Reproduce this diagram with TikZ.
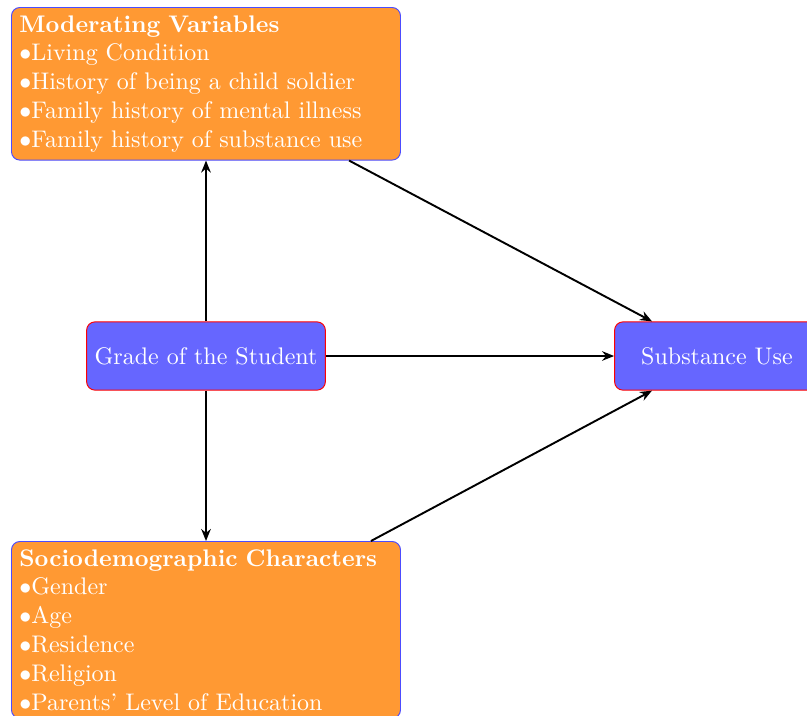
\documentclass[tikz,border=0pt]{standalone}
\usetikzlibrary{arrows.meta,calc}
\begin{document}
\begin{tikzpicture}[x=0.4167pt,y=-0.4167pt,
  infobox/.style={draw=blue!70, fill=orange!80, rounded corners=3.5pt, text=white,
    align=left, text width=155.5pt, inner sep=3.3pt, anchor=north west},
  keybox/.style={draw=red, fill=blue!60, rounded corners=3.5pt, text=white,
    minimum height=1cm, minimum width=3cm, inner sep=3.3pt},
  link/.style={thick, -{Stealth[length=5pt,width=4pt]}}]
\useasboundingbox (0,0) rectangle (807,715);
\node[infobox] (mod) at (11,7) {\textbf{Moderating Variables}\\
$\bullet$Living Condition\\
$\bullet$History of being a child soldier\\
$\bullet$Family history of mental illness\\
$\bullet$Family history of substance use};
\node[infobox] (soc) at (11,541) {\textbf{Sociodemographic Characters}\\
$\bullet$Gender\\
$\bullet$Age\\
$\bullet$Residence\\
$\bullet$Religion\\
$\bullet$Parents' Level of Education};
\node[keybox] (grade) at (206,356) {Grade of the Student};
\node[keybox] (sub) at (717,356) {Substance Use};
\draw[link] (grade.north) -- (grade.north |- mod.south);
\draw[link] (grade.south) -- (grade.south |- soc.north);
\draw[link] (grade.east) -- (sub.west);
\draw[link] ($(mod.south west)!0.867!(mod.south east)$) -- ([xshift=15.8pt]sub.north west);
\draw[link] ($(soc.north west)!0.923!(soc.north east)$) -- ([xshift=15.8pt]sub.south west);
\end{tikzpicture}
\end{document}
